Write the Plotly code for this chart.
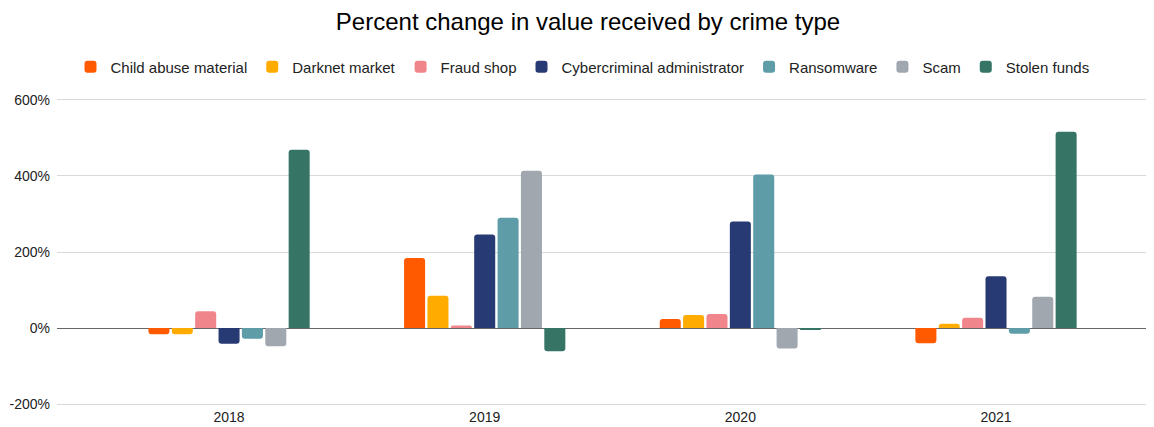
import plotly.graph_objects as go

# --- data ---
years = ["2018", "2019", "2020", "2021"]
child_abuse = [-16, 184, 24, -40]
darknet = [-16, 85, 34, 11]
fraud_shop = [44, 7, 37, 27]
cyber_admin = [-41, 246, 280, 136]
ransomware = [-28, 290, 404, -15]
scam = [-48, 414, -54, 82]
stolen_funds = [469, -61, -5, 516]

series = [
    ("Child abuse material", child_abuse, "#FF5A00"),
    ("Darknet market", darknet, "#FFAB00"),
    ("Fraud shop", fraud_shop, "#F0868C"),
    ("Cybercriminal administrator", cyber_admin, "#283A73"),
    ("Ransomware", ransomware, "#5E9CA8"),
    ("Scam", scam, "#A1A7AF"),
    ("Stolen funds", stolen_funds, "#367566"),
]

fig = go.Figure()
for name, vals, color in series:
    fig.add_trace(go.Bar(
        x=years, y=vals, name=name,
        marker=dict(color=color, line=dict(width=0)),
        hovertemplate="%{x}: %{y}%<extra>" + name + "</extra>",
    ))

# page body has an 8px margin: shrink the figure so it fits the window exactly
fig.update_layout(
    width=1146, height=419,
    paper_bgcolor="white", plot_bgcolor="white",
    font=dict(family="Liberation Sans, Arial, sans-serif", color="#333"),
    title=dict(text="Percent change in value received by crime type",
               x=0.5061, xanchor="center", y=0.9666, yanchor="middle",
               font=dict(size=24, color="#000")),
    barmode="group", bargap=0.36, bargroupgap=0.1, barcornerradius=3,
    margin=dict(l=49, r=0, t=90, b=21, autoexpand=False),
    legend=dict(orientation="h", xref="container", x=0.5013, xanchor="center",
                yref="container", y=0.859, yanchor="middle",
                font=dict(size=15, color="#222"), itemwidth=30, traceorder="normal"),
    xaxis=dict(type="category", range=[-0.673, 3.618], showgrid=False, automargin=False,
               ticks="", tickfont=dict(size=14, color="#222"), showline=False,
               ticklabelstandoff=1),
    yaxis=dict(range=[-205, 605], tickvals=[-200, 0, 200, 400, 600],
               ticktext=["-200%", "0%", "200%", "400%", "600%"], automargin=False,
               showgrid=True, gridcolor="#D9D9D9", gridwidth=1,
               zeroline=True, zerolinecolor="#666", zerolinewidth=1,
               tickfont=dict(size=14, color="#222"), ticks="", ticklabelstandoff=6),
)

fig.write_html("out.html")
